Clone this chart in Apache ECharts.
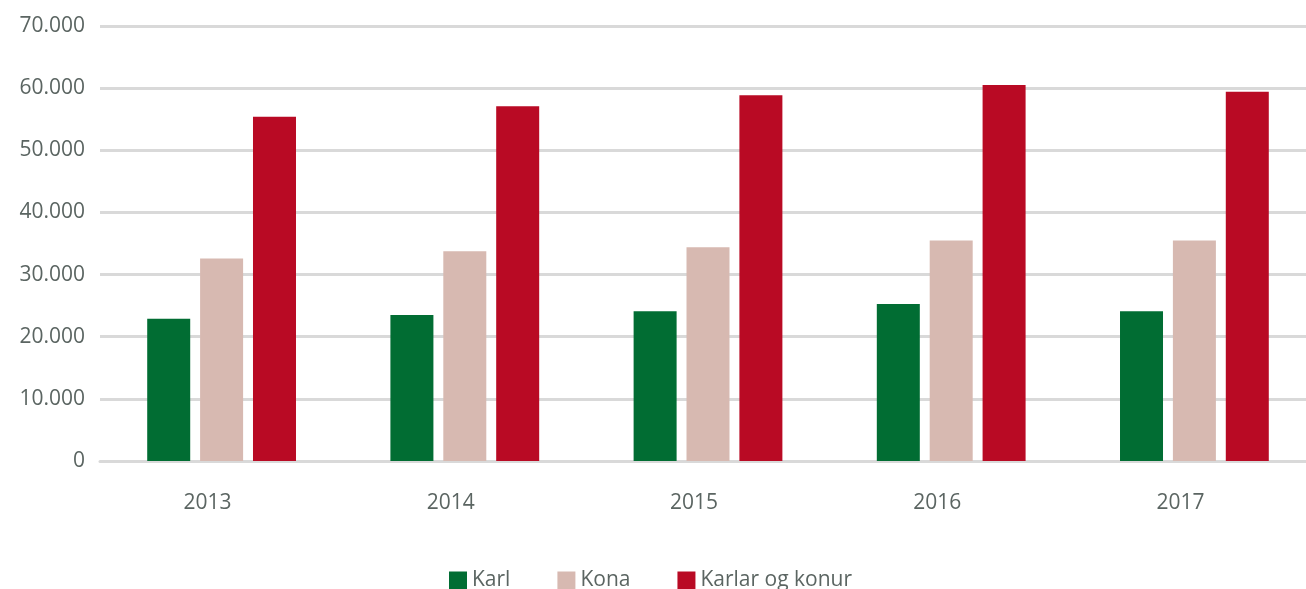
<!DOCTYPE html>
<html>
<head>
<meta charset="utf-8">
<script src="https://cdn.jsdelivr.net/npm/echarts@6/dist/echarts.min.js"></script>
<style>
  html, body { margin: 0; padding: 0; background: #fff; }
  #chart { width: 1306px; height: 589px; }
</style>
</head>
<body>
<div id="chart"></div>
<script>
var years = ['2013', '2014', '2015', '2016', '2017'];
var karl = [22900, 23500, 24100, 25250, 24100];
var kona = [32600, 33750, 34400, 35500, 35500];
var karlarOgKonur = [55400, 57100, 58850, 60500, 59400];

var textColor = '#5b6562';
var font = 'Open Sans';

(function () {
  var myChart = echarts.init(document.getElementById('chart'));

  function bar(name, data, color) {
    return {
      name: name,
      type: 'bar',
      data: data,
      barWidth: 43,
      barGap: '23%',
      itemStyle: { color: color },
      emphasis: { disabled: true }
    };
  }

  myChart.setOption({
    animation: false,
    textStyle: { fontFamily: font },
    grid: { left: 100, top: 26, width: 1216, height: 435, outerBoundsMode: 'none', containLabel: false },
    legend: {
      top: 565,
      left: 444,
      itemWidth: 18,
      itemHeight: 18,
      itemGap: 47,
      icon: 'rect',
      textStyle: { color: textColor, fontSize: 21, fontFamily: font },
      data: ['Karl', 'Kona', 'Karlar og konur']
    },
    xAxis: {
      type: 'category',
      data: years,
      axisLine: { show: true, lineStyle: { color: '#d9d9d9', width: 3 } },
      axisTick: { show: false },
      axisLabel: { color: textColor, fontSize: 21, margin: 32, padding: [0, 28, 0, 0], fontFamily: font }
    },
    yAxis: {
      type: 'value',
      min: 0,
      max: 70000,
      interval: 10000,
      axisLine: { show: false },
      axisTick: { show: false },
      splitLine: { lineStyle: { color: '#d9d9d9', width: 3 } },
      axisLabel: {
        color: textColor,
        fontSize: 21,
        margin: 15,
        fontFamily: font,
        formatter: function (v) {
          return String(v).replace(/\B(?=(\d{3})+(?!\d))/g, '.');
        }
      }
    },
    series: [
      bar('Karl', karl, '#016d33'),
      bar('Kona', kona, '#d7b9b1'),
      bar('Karlar og konur', karlarOgKonur, '#b90a24')
    ]
  });
})();
</script>
</body>
</html>
